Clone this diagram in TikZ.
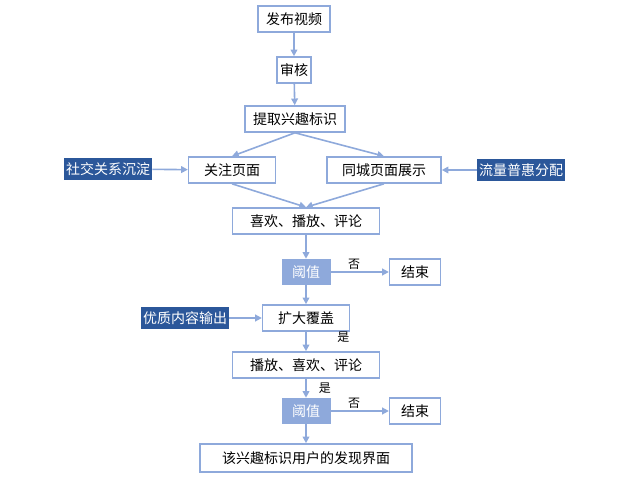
\documentclass[tikz,border=0pt]{standalone}
\usepackage{fontspec}
\setmainfont{Noto Sans CJK SC}
\usetikzlibrary{arrows.meta}
\definecolor{ln}{HTML}{8EA9DB}
\definecolor{dk}{HTML}{2B579A}
\begin{document}
\begin{tikzpicture}[x=0.75pt,y=-0.75pt,
 box/.style={draw=ln,line width=1.2pt,fill=white,minimum height=19.5pt,inner sep=0pt,font=\fontsize{10.5}{12}\selectfont},
 lab/.style={fill=dk,text=white,inner sep=1.5pt,minimum height=16pt,font=\fontsize{10.5}{12}\selectfont},
 thr/.style={fill=ln,text=white,minimum width=36.75pt,minimum height=19.5pt,inner sep=0pt,font=\fontsize{10.5}{12}\selectfont},
 arr/.style={draw=ln,line width=1.2pt,-{Triangle[length=5pt,width=5pt]}},
 sm/.style={font=\fontsize{9}{10}\selectfont,inner sep=1pt}]
\useasboundingbox (0,0) rectangle (640,477);
\node[box,minimum width=54pt] (a) at (294,19) {发布视频};
\node[box,minimum width=25.5pt] (b) at (294,70) {审核};
\node[box,minimum width=75pt] (c) at (295,119) {提取兴趣标识};
\node[box,minimum width=65pt] (d) at (232,170) {关注页面};
\node[box,minimum width=85.5pt] (e) at (384,170) {同城页面展示};
\node[lab] (f) at (108,169) {社交关系沉淀};
\node[lab] (g) at (521,170) {流量普惠分配};
\node[box,minimum width=110pt] (h) at (306,221) {喜欢、播放、评论};
\node[thr] (i) at (306,272) {阈值};
\node[box,minimum width=38pt] (j) at (415,272) {结束};
\node[box,minimum width=65pt] (k) at (306,318) {扩大覆盖};
\node[lab] (l) at (185,318) {优质内容输出};
\node[box,minimum width=110pt] (m) at (306,365) {播放、喜欢、评论};
\node[thr] (n) at (306,411) {阈值};
\node[box,minimum width=38pt] (o) at (415,411) {结束};
\node[box,minimum width=159pt,minimum height=21pt] (p) at (306,458) {该兴趣标识用户的发现界面};
\draw[arr] (a) -- (b);
\draw[arr] (b) -- (c);
\draw[arr] (c.south) -- (d.north);
\draw[arr] (c.south) -- (e.north);
\draw[arr] (f) -- (d);
\draw[arr] (g) -- (e);
\draw[arr] (d.south) -- (h.north);
\draw[arr] (e.south) -- (h.north);
\draw[arr] (h) -- (i);
\draw[arr] (i) -- node[sm,above,pos=0.4]{否} (j);
\draw[arr] (i) -- (k);
\draw[arr] (l) -- (k);
\draw[arr] (k) -- node[sm,right,pos=0.3,xshift=22pt]{是} (m);
\draw[arr] (m) -- node[sm,right,pos=0.5,xshift=8pt]{是} (n);
\draw[arr] (n) -- node[sm,above,pos=0.4]{否} (o);
\draw[arr] (n) -- (p);
\end{tikzpicture}
\end{document}
